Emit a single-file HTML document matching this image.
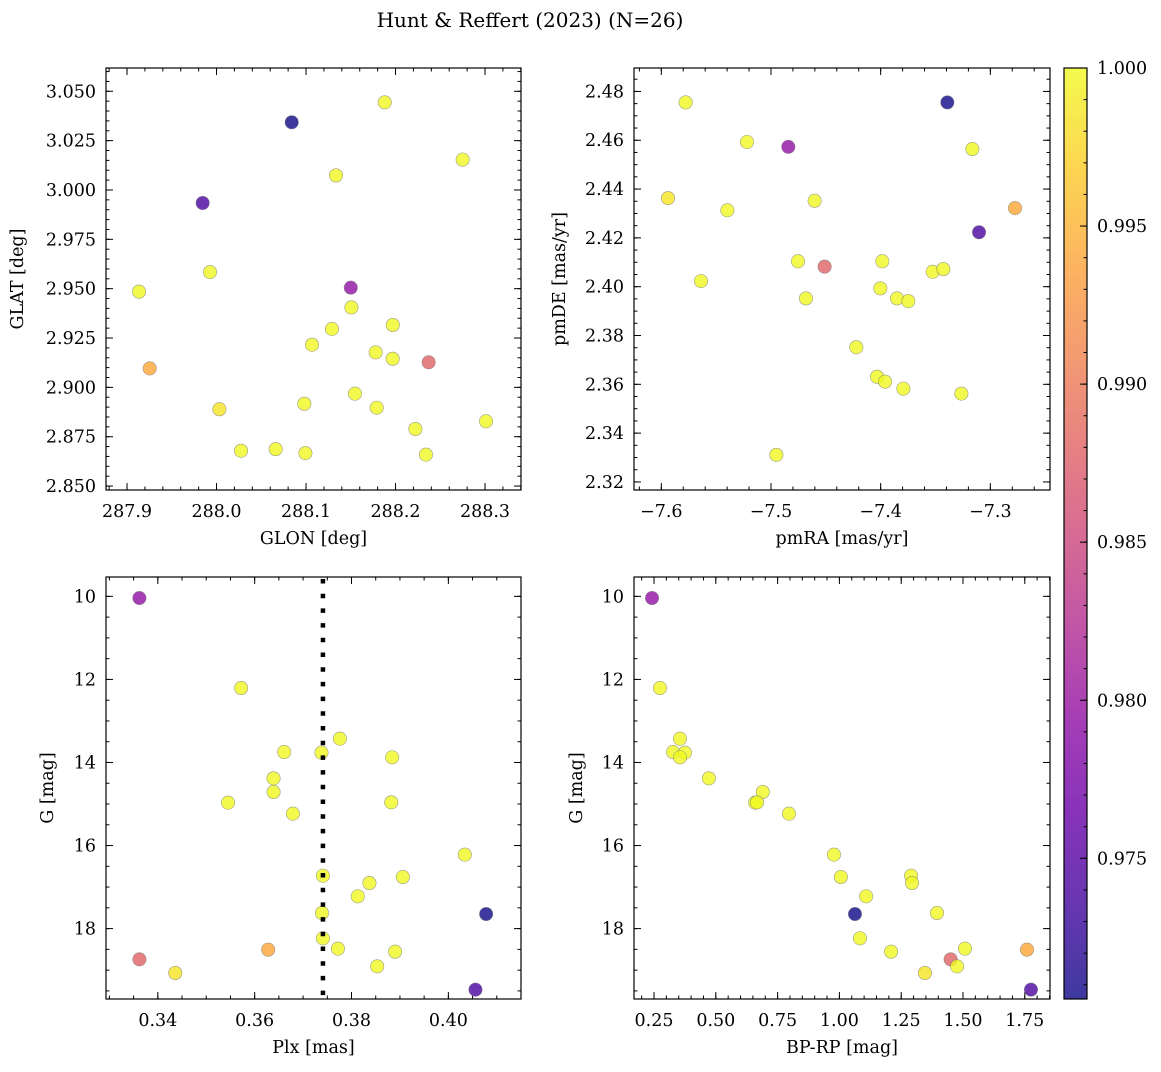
<!DOCTYPE html>
<html><head><meta charset="utf-8"><style>
html,body{margin:0;padding:0;background:#fff;}
svg text{font-family:"DejaVu Serif","Liberation Serif",serif;fill:#000;}
</style></head><body>
<svg id="fig" xmlns="http://www.w3.org/2000/svg" width="1161" height="1067" viewBox="0 0 1161 1067">
<rect width="1161" height="1067" fill="#fff"/>
<text x="530" y="27" font-size="20" text-anchor="middle">Hunt &amp; Reffert (2023) (N=26)</text>
</svg>
<script>
// ---- data (per star) ----
const gmag = [10.04,12.207,13.427,13.748,13.764,13.876,14.382,14.711,14.968,14.960,15.233,16.220,16.726,16.758,16.902,17.223,17.649,17.624,18.234,18.507,18.483,18.555,18.740,18.909,19.069,19.470];
const bprp = [0.242,0.274,0.355,0.327,0.375,0.355,0.472,0.69,0.659,0.667,0.796,0.978,1.29,1.006,1.294,1.108,1.063,1.395,1.083,1.759,1.508,1.209,1.45,1.476,1.346,1.775];
const plx = [0.3362,0.3572,0.3776,0.3661,0.3738,0.3884,0.3639,0.3639,0.3545,0.3882,0.3679,0.4034,0.3741,0.3906,0.3837,0.3813,0.4078,0.3739,0.3741,0.3628,0.3772,0.3890,0.3362,0.3853,0.3436,0.4056];
const prob = [0.9795,1,1,1,1,1,1,1,1,1,1,1,1,1,1,1,0.9706,1,1,0.9941,1,1,0.988,1,0.9985,0.974];
const glon = [288.150,288.188,288.275,288.1335,287.9927,287.9134,288.1507,288.197,288.129,288.1067,288.1778,288.1968,288.1547,288.0981,288.179,288.3011,288.084,288.2222,288.0274,287.9253,288.0661,288.0993,288.237,288.234,288.0032,287.9845];
const glat = [2.9505,3.0444,3.0154,3.0074,2.9584,2.9485,2.9405,2.9316,2.9296,2.9216,2.9177,2.9145,2.8968,2.8917,2.8897,2.8828,3.0343,2.8789,2.8679,2.9096,2.8687,2.8667,2.9127,2.8659,2.8889,2.9934];
const pmra = [-7.4842,-7.5778,-7.5219,-7.3164,-7.5398,-7.4602,-7.4754,-7.3985,-7.3526,-7.3429,-7.5638,-7.4003,-7.4681,-7.3851,-7.3748,-7.4222,-7.3392,-7.4033,-7.396,-7.2775,-7.3793,-7.3264,-7.4511,-7.4951,-7.5939,-7.3103];
const pmde = [2.4573,2.4755,2.4593,2.4564,2.4313,2.4352,2.4104,2.4104,2.4061,2.4072,2.4023,2.3993,2.3952,2.3952,2.3941,2.3752,2.4755,2.3631,2.3611,2.4322,2.3582,2.3562,2.4082,2.3311,2.4363,2.4223];
const plxMean = [0.3741];
// ---- tick labels ----
const ticksGlon = [287.9,288.0,288.1,288.2,288.3];
const ticksGlat = [2.850,2.875,2.900,2.925,2.950,2.975,3.000,3.025,3.050];
const ticksPmra = [-7.6,-7.5,-7.4,-7.3];
const ticksPmde = [2.32,2.34,2.36,2.38,2.40,2.42,2.44,2.46,2.48];
const ticksPlx = [0.34,0.36,0.38,0.40];
const ticksG = [10,12,14,16,18];
const ticksBprp = [0.25,0.50,0.75,1.00,1.25,1.50,1.75];
const ticksCbar = [0.975,0.980,0.985,0.990,0.995,1.000];

const NS="http://www.w3.org/2000/svg";
const svg=document.getElementById('fig');
function mk(tag,attrs,parent){const e=document.createElementNS(NS,tag);for(const k in attrs)e.setAttribute(k,attrs[k]);(parent||svg).appendChild(e);return e;}

const stops=[[13,8,135],[65,4,157],[106,0,168],[143,13,164],[177,42,144],[204,71,120],[225,100,98],[242,132,75],[252,166,54],[252,206,37],[240,249,33]];
const CMIN=0.97055, CMAX=1.0;
function plasma(v){let t=(v-CMIN)/(CMAX-CMIN);t=Math.max(0,Math.min(1,t));const p=t*10;const i=Math.min(9,Math.floor(p));const f=p-i;const a=stops[i],b=stops[i+1];
 const c=[0,1,2].map(k=>Math.round(a[k]+(b[k]-a[k])*f));return `rgb(${c[0]},${c[1]},${c[2]})`;}

function fmt(v,d){return (v<0?'\u2212':'')+Math.abs(v).toFixed(d);}

function panel(cfg){
  const g=mk('g',{});
  
  
  const sx=v=>cfg.x0+(v-cfg.xmin)/(cfg.xmax-cfg.xmin)*(cfg.x1-cfg.x0);
  const sy=v=>cfg.y1-(v-cfg.ymin)/(cfg.ymax-cfg.ymin)*(cfg.y1-cfg.y0);
  const tk=mk('g',{stroke:'#000','stroke-width':1},g);
  
  
  const lo=Math.min(cfg.xmin,cfg.xmax), hi=Math.max(cfg.xmin,cfg.xmax);
  for(let v=Math.ceil(lo/cfg.xminor-1e-6)*cfg.xminor; v<=hi; v+=cfg.xminor){const x=sx(v);
    mk('line',{x1:x,x2:x,y1:cfg.y1,y2:cfg.y1-3.5},tk);mk('line',{x1:x,x2:x,y1:cfg.y0,y2:cfg.y0+3.5},tk);}
  const ylo=Math.min(cfg.ymin,cfg.ymax), yhi=Math.max(cfg.ymin,cfg.ymax);
  for(let v=Math.ceil(ylo/cfg.yminor-1e-6)*cfg.yminor; v<=yhi; v+=cfg.yminor){const y=sy(v);
    mk('line',{x1:cfg.x0,x2:cfg.x0+3.5,y1:y,y2:y},tk);mk('line',{x1:cfg.x1,x2:cfg.x1-3.5,y1:y,y2:y},tk);}
  cfg.xt.forEach(v=>{const x=sx(v);
    mk('line',{x1:x,x2:x,y1:cfg.y1,y2:cfg.y1-7},tk);mk('line',{x1:x,x2:x,y1:cfg.y0,y2:cfg.y0+7},tk);
    const t=mk('text',{x:x,y:cfg.y1+27,'font-size':17.5,'text-anchor':'middle'},g);t.textContent=fmt(v,cfg.xd);
    
    });
  cfg.yt.forEach(v=>{const y=sy(v);
    mk('line',{x1:cfg.x0,x2:cfg.x0+7,y1:y,y2:y},tk);mk('line',{x1:cfg.x1,x2:cfg.x1-7,y1:y,y2:y},tk);
    const t=mk('text',{x:cfg.x0-10,y:y+6,'font-size':17.5,'text-anchor':'end'},g);t.textContent=fmt(v,cfg.yd);
    
    });
  for(let i=0;i<cfg.xs.length;i++){
    const c=mk('circle',{cx:sx(cfg.xs[i]),cy:sy(cfg.ys[i]),r:6.7,fill:plasma(prob[i]),'fill-opacity':0.8,stroke:'#777','stroke-opacity':0.7,'stroke-width':0.6},g);
    
    
  }
  if(cfg.vline){const x=sx(cfg.vline[0]);
    const l=mk('line',{x1:x,x2:x,y1:cfg.y0+2,y2:cfg.y1,stroke:'#000','stroke-width':4.5,'stroke-dasharray':'4.5 10.2'},g);
    
    }
  const fr=mk('rect',{x:cfg.x0,y:cfg.y0,width:cfg.x1-cfg.x0,height:cfg.y1-cfg.y0,fill:'none',stroke:'#000','stroke-width':1.2},g);
  
  
  const xl=mk('text',{x:(cfg.x0+cfg.x1)/2,y:cfg.y1+54,'font-size':17.5,'text-anchor':'middle'},g);xl.textContent=cfg.xlabel;
  
  
  const yc=(cfg.y0+cfg.y1)/2;
  const yl=mk('text',{x:cfg.ylx,y:yc,'font-size':17.5,'text-anchor':'middle',transform:`rotate(-90 ${cfg.ylx} ${yc})`,'dominant-baseline':'central'},g);yl.textContent=cfg.ylabel;
  
  
}

panel({name:'glon-glat-panel',x0:106,x1:521,y0:68,y1:490,xmin:287.8765,xmax:288.3402,ymin:2.848,ymax:3.0618,xt:ticksGlon,yt:ticksGlat,xd:1,yd:3,xminor:0.02,yminor:0.005,xs:glon,ys:glat,xlabel:'GLON [deg]',ylabel:'GLAT [deg]',ylx:18});
panel({name:'pm-panel',x0:634,x1:1050,y0:68,y1:490,xmin:-7.6249,xmax:-7.2456,ymin:2.3167,ymax:2.4896,xt:ticksPmra,yt:ticksPmde,xd:1,yd:2,xminor:0.02,yminor:0.005,xs:pmra,ys:pmde,xlabel:'pmRA [mas/yr]',ylabel:'pmDE [mas/yr]',ylx:560});
panel({name:'plx-g-panel',x0:106,x1:521,y0:577,y1:999,xmin:0.3293,xmax:0.4150,ymin:19.695,ymax:9.534,xt:ticksPlx,yt:ticksG,xd:2,yd:0,xminor:0.005,yminor:0.5,xs:plx,ys:gmag,xlabel:'Plx [mas]',ylabel:'G [mag]',ylx:48,vline:plxMean});
panel({name:'cmd-panel',x0:634,x1:1050,y0:577,y1:999,xmin:0.169,xmax:1.852,ymin:19.695,ymax:9.534,xt:ticksBprp,yt:ticksG,xd:2,yd:0,xminor:0.05,yminor:0.5,xs:bprp,ys:gmag,xlabel:'BP-RP [mag]',ylabel:'G [mag]',ylx:577});

// colorbar
(function(){
  const x0=1064,x1=1087,y0=68,y1=999;
  const cb=mk('g',{});
  
  
  const defs=mk('defs',{},cb);
  const lg=mk('linearGradient',{id:'cg',x1:0,y1:1,x2:0,y2:0},defs);
  for(let k=0;k<=20;k++){const v=CMIN+(CMAX-CMIN)*k/20;mk('stop',{offset:k/20,'stop-color':plasma(v),'stop-opacity':0.8},lg);}
  mk('rect',{x:x0,y:y0,width:x1-x0,height:y1-y0,fill:'url(#cg)'},cb);
  const sy=v=>y1-(v-CMIN)/(CMAX-CMIN)*(y1-y0);
  for(let k=971;k<=1000;k++){const v=k/1000;if(v<CMIN)continue;const y=sy(v);mk('line',{x1:x1,x2:x1-3.5,y1:y,y2:y,stroke:'#000','stroke-width':1},cb);}
  ticksCbar.forEach(v=>{const y=sy(v);mk('line',{x1:x1,x2:x1-7,y1:y,y2:y,stroke:'#000','stroke-width':1},cb);
    const t=mk('text',{x:x1+10,y:y+6,'font-size':17.5},cb);t.textContent=v.toFixed(3);
    
    });
  mk('rect',{x:x0,y:y0,width:x1-x0,height:y1-y0,fill:'none',stroke:'#000','stroke-width':1.2},cb);
})();
</script>
</body></html>
